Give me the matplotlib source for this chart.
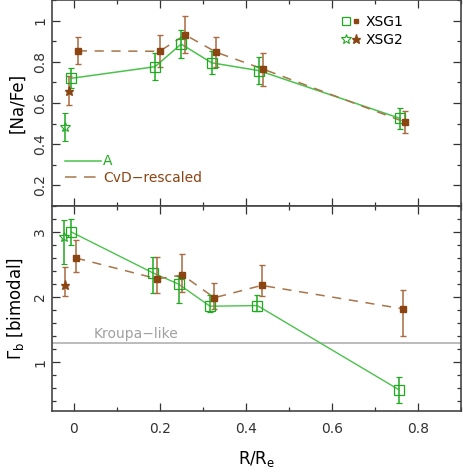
import matplotlib
matplotlib.use("Agg")
import matplotlib.pyplot as plt
from matplotlib.lines import Line2D
from matplotlib.legend_handler import HandlerTuple
from matplotlib.ticker import MultipleLocator

# --- top panel: [Na/Fe] ---
na_a_x = [-0.005, 0.189, 0.25, 0.321, 0.431, 0.759]
na_a_y = [0.72, 0.776, 0.886, 0.795, 0.757, 0.525]
na_a_err = [0.048, 0.065, 0.068, 0.055, 0.067, 0.05]

na_cvd_x = [0.01, 0.2, 0.259, 0.332, 0.441, 0.770]
na_cvd_y = [0.853, 0.851, 0.931, 0.846, 0.764, 0.507]
na_cvd_err = [0.065, 0.077, 0.09, 0.073, 0.08, 0.055]

na_a_star = (-0.019, 0.483, 0.067)
na_cvd_star = (-0.01, 0.66, 0.07)

# --- bottom panel: Gamma_b ---
gb_a_x = [-0.005, 0.185, 0.244, 0.317, 0.427, 0.755]
gb_a_y = [3.0, 2.37, 2.2, 1.86, 1.87, 0.58]
gb_a_lo = [0.2, 0.3, 0.29, 0.09, 0.09, 0.2]
gb_a_hi = [0.2, 0.25, 0.12, 0.17, 0.16, 0.2]

gb_cvd_x = [0.006, 0.195, 0.253, 0.327, 0.437, 0.765]
gb_cvd_y = [2.6, 2.28, 2.34, 1.99, 2.18, 1.82]
gb_cvd_lo = [0.22, 0.21, 0.26, 0.17, 0.16, 0.41]
gb_cvd_hi = [0.28, 0.34, 0.32, 0.22, 0.32, 0.29]

gb_a_star = (-0.021, 2.92, 0.41, 0.26)
gb_cvd_star = (-0.02, 2.18, 0.16, 0.28)

kroupa = 1.3

green = "#1faa1f"
green_line = "#4cc24c"
brown = "#8b4513"
brown_line = "#a8754a"
brown_err = "#a86a40"

plt.rcParams["font.family"] = ["DejaVu Sans"]
plt.rcParams["font.size"] = 10

fig = plt.figure(figsize=(4.63, 4.73), dpi=100)
ax1 = fig.add_axes([52 / 463, 1 - 206 / 473, 409 / 463, 206 / 473])
ax2 = fig.add_axes([52 / 463, 1 - 411 / 473, 409 / 463, 205 / 473])

def style(ax):
    ax.tick_params(which="both", direction="in", top=True, right=True,
                   width=0.9, colors="#333333", labelcolor="#333333")
    ax.tick_params(which="major", length=6)
    ax.tick_params(which="minor", length=3.2)
    ax.xaxis.set_major_locator(MultipleLocator(0.2))
    ax.xaxis.set_minor_locator(MultipleLocator(0.1))
    for s in ax.spines.values():
        s.set_color("#444444")
        s.set_linewidth(1.2)
    ax.set_xlim(-0.05, 0.9)

eb_kw = dict(capsize=2.2, elinewidth=1.1, capthick=1.0)

# top
ax1.plot(na_a_x, na_a_y, "-", color=green_line, lw=1.1)
ax1.plot(na_cvd_x, na_cvd_y, color=brown_line, lw=1.1, dashes=(6, 5))
ax1.errorbar(na_a_x, na_a_y, yerr=na_a_err, fmt="s", mfc="none", mec=green, ms=6.5,
             mew=0.9, ecolor=green, **eb_kw)
ax1.errorbar(na_cvd_x, na_cvd_y, yerr=na_cvd_err, fmt="s", color=brown, ms=4,
             ecolor=brown_err, **eb_kw)
ax1.errorbar([na_a_star[0]], [na_a_star[1]], yerr=[na_a_star[2]], fmt="*", mfc="none",
             mec=green, ms=7.5, mew=0.8, ecolor=green, **eb_kw)
ax1.errorbar([na_cvd_star[0]], [na_cvd_star[1]], yerr=[na_cvd_star[2]], fmt="*",
             color=brown, ms=6.5, ecolor=brown_err, **eb_kw)
style(ax1)
ax1.set_ylim(0.1, 1.1)
ax1.yaxis.set_major_locator(MultipleLocator(0.2))
ax1.yaxis.set_minor_locator(MultipleLocator(0.1))
ax1.set_yticks([0.2, 0.4, 0.6, 0.8, 1.0], ["0.2", "0.4", "0.6", "0.8", "1"])
ax1.tick_params(axis="y", labelrotation=90)
for t in ax1.get_yticklabels():
    t.set_va("center")
ax1.set_xticklabels([])
ax1.set_ylabel("[Na/Fe]", fontsize=12, labelpad=5)

h_a = Line2D([], [], color=green_line, lw=1.1)
h_cvd = Line2D([], [], color=brown_line, lw=1.1, dashes=(7.5, 5))
leg1 = ax1.legend([h_a, h_cvd], ["A", "CvD\u2212rescaled"], loc="lower left",
                  bbox_to_anchor=(0.0, 0.04), frameon=False,
                  handlelength=2.6, handletextpad=0.2, labelspacing=0.2,
                  labelcolor=[green, brown], fontsize=10)

h_sq = (Line2D([], [], ls="none", marker="s", mfc="none", mec=green, ms=6, mew=0.9),
        Line2D([], [], ls="none", marker="s", color=brown, ms=3.5))
h_st = (Line2D([], [], ls="none", marker="*", mfc="none", mec=green, ms=7, mew=0.8),
        Line2D([], [], ls="none", marker="*", color=brown, ms=6.5))
leg2 = ax1.legend([h_sq, h_st], ["XSG1", "XSG2"], loc="upper right",
                  bbox_to_anchor=(0.89, 0.99), frameon=False, fontsize=10,
                  handler_map={tuple: HandlerTuple(ndivide=None, pad=0.1)},
                  handlelength=1.3, handletextpad=0.4, labelspacing=0.3)
ax1.add_artist(leg1)

# bottom
ax2.axhline(kroupa, color="#aaaaaa", lw=1.1)
ax2.text(0.046, kroupa + 0.03, "Kroupa\u2212like", color="#a0a0a0", fontsize=10, va="bottom")
ax2.plot(gb_a_x, gb_a_y, "-", color=green_line, lw=1.0)
ax2.plot(gb_cvd_x, gb_cvd_y, color=brown_line, lw=1.1, dashes=(6, 5))
ax2.errorbar(gb_a_x, gb_a_y, yerr=[gb_a_lo, gb_a_hi], fmt="s", mfc="none", mec=green,
             ms=6.5, mew=0.9, ecolor=green, **eb_kw)
ax2.errorbar(gb_cvd_x, gb_cvd_y, yerr=[gb_cvd_lo, gb_cvd_hi], fmt="s", color=brown, ms=4,
             ecolor=brown_err, **eb_kw)
ax2.errorbar([gb_a_star[0]], [gb_a_star[1]], yerr=[[gb_a_star[2]], [gb_a_star[3]]], fmt="*",
             mfc="none", mec=green, ms=7.5, mew=0.8, ecolor=green, **eb_kw)
ax2.errorbar([gb_cvd_star[0]], [gb_cvd_star[1]], yerr=[[gb_cvd_star[2]], [gb_cvd_star[3]]],
             fmt="*", color=brown, ms=6.5, ecolor=brown_err, **eb_kw)
style(ax2)
ax2.set_ylim(0.25, 3.4)
ax2.yaxis.set_major_locator(MultipleLocator(1))
ax2.yaxis.set_minor_locator(MultipleLocator(0.2))
ax2.set_yticks([1, 2, 3], ["1", "2", "3"])
ax2.tick_params(axis="y", labelrotation=90)
for t in ax2.get_yticklabels():
    t.set_va("center")
ax2.set_xticks([0, 0.2, 0.4, 0.6, 0.8], ["0", "0.2", "0.4", "0.6", "0.8"])
ax2.tick_params(axis="x", pad=8)
ax2.set_ylabel(r"$\Gamma_{\rm b}$ [bimodal]", fontsize=12, labelpad=5)
ax2.set_xlabel(r"R/R$_{\rm e}$", fontsize=12, labelpad=9)

fig.savefig("out.png", dpi=100)
